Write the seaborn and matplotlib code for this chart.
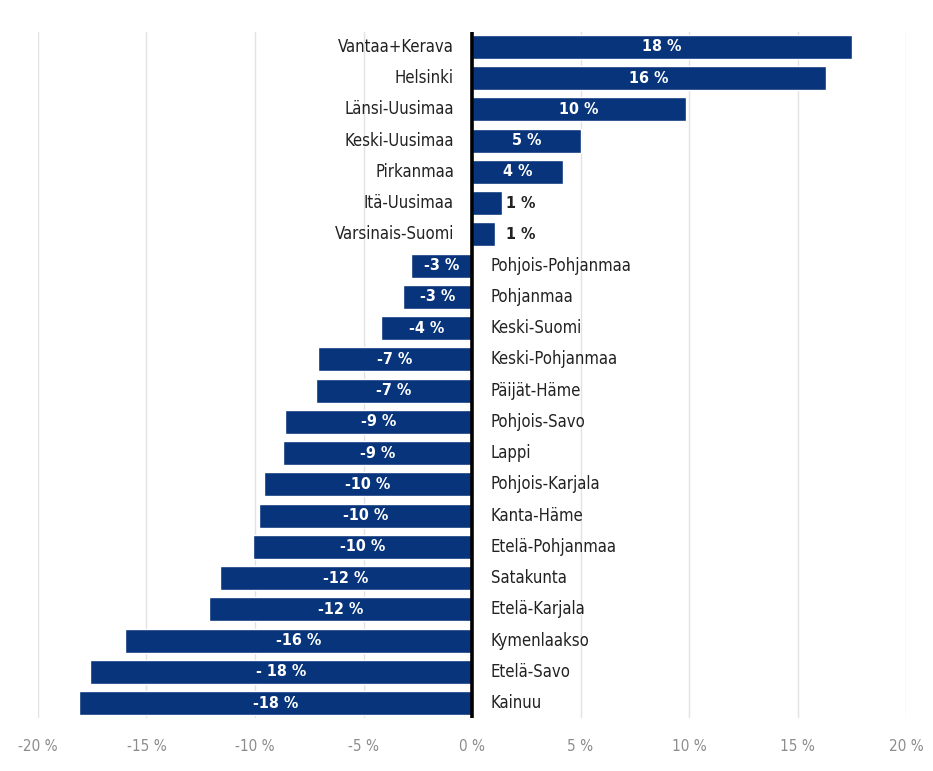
import matplotlib
matplotlib.use("Agg")
import matplotlib.pyplot as plt
import seaborn as sns
import pandas as pd
from matplotlib import font_manager

regions = ["Vantaa+Kerava", "Helsinki", "Länsi-Uusimaa", "Keski-Uusimaa", "Pirkanmaa",
           "Itä-Uusimaa", "Varsinais-Suomi", "Pohjois-Pohjanmaa", "Pohjanmaa", "Keski-Suomi",
           "Keski-Pohjanmaa", "Päijät-Häme", "Pohjois-Savo", "Lappi", "Pohjois-Karjala",
           "Kanta-Häme", "Etelä-Pohjanmaa", "Satakunta", "Etelä-Karjala", "Kymenlaakso",
           "Etelä-Savo", "Kainuu"]
values = [17.5, 16.3, 9.85, 5.0, 4.2, 1.4, 1.05, -2.8, -3.2, -4.2, -7.1, -7.2, -8.6, -8.7,
          -9.6, -9.8, -10.1, -11.6, -12.1, -16.0, -17.6, -18.1]
value_labels = ["18 %", "16 %", "10 %", "5 %", "4 %", "1 %", "1 %", "-3 %", "-3 %", "-4 %",
                "-7 %", "-7 %", "-9 %", "-9 %", "-10 %", "-10 %", "-10 %", "-12 %", "-12 %",
                "-16 %", "- 18 %", "-18 %"]
xticks = [-20, -15, -10, -5, 0, 5, 10, 15, 20]
xtick_labels = ["-20 %", "-15 %", "-10 %", "-5 %", "0 %", "5 %", "10 %", "15 %", "20 %"]

sns.set_theme(style="white")

# pick a condensed face if one is installed
cond = None
for f in font_manager.fontManager.ttflist:
    st = str(f.stretch).lower()
    if ("condensed" in st or "narrow" in f.name.lower() or "condensed" in f.name.lower()
            or (isinstance(f.stretch, int) and f.stretch < 500)):
        cond = f
        break
if cond is not None:
    fam = cond.name
    stretch = cond.stretch
    scale = 1.0
else:
    fam = "Roboto"
    stretch = "normal"
    scale = 0.92
plt.rcParams["font.family"] = [fam, "DejaVu Sans"]
plt.rcParams["font.stretch"] = stretch

navy = "#08347c"
df = pd.DataFrame({"region": regions, "value": values})

fig = plt.figure(figsize=(9.33, 7.71), dpi=100)
ax = fig.add_axes([38 / 933, 1 - 718 / 771, (906 - 38) / 933, (718 - 32) / 771])
sns.barplot(data=df, y="region", x="value", orient="h", color=navy, width=0.77,
            saturation=1, ax=ax)

ax.set_xlim(-20, 20)
ax.set_ylim(len(regions) - 0.52, -0.48)
ax.set_xticks(xticks)
ax.set_xticklabels(xtick_labels, color="#8c8c8c", fontsize=11 * scale)
ax.set_yticks([])
ax.set_xlabel("")
ax.set_ylabel("")
ax.tick_params(axis="x", length=0, pad=15)
for s in ax.spines.values():
    s.set_visible(False)
for t in xticks:
    if t != 0:
        ax.axvline(t, color="#e2e2e2", lw=1, zorder=0)
ax.axvline(0, color="black", lw=2.6, zorder=5)

for i, (r, v, lab) in enumerate(zip(regions, values, value_labels)):
    if abs(v) < 2:
        ax.annotate(lab, xy=(v, i), xytext=(1.55, i), textcoords="data", ha="left",
                    va="center", fontsize=11.5 * scale, fontweight="bold", color="#222222")
    else:
        ax.text(v / 2, i, lab, ha="center", va="center", fontsize=11.5 * scale,
                fontweight="bold", color="white", zorder=6)
    if v >= 0:
        ax.annotate(r, xy=(0, i), xytext=(-13, 0), textcoords="offset points",
                    ha="right", va="center", fontsize=12 * scale, color="#222222")
    else:
        ax.annotate(r, xy=(0, i), xytext=(13.5, 0), textcoords="offset points",
                    ha="left", va="center", fontsize=12 * scale, color="#222222")

fig.savefig("out.png", dpi=100)
